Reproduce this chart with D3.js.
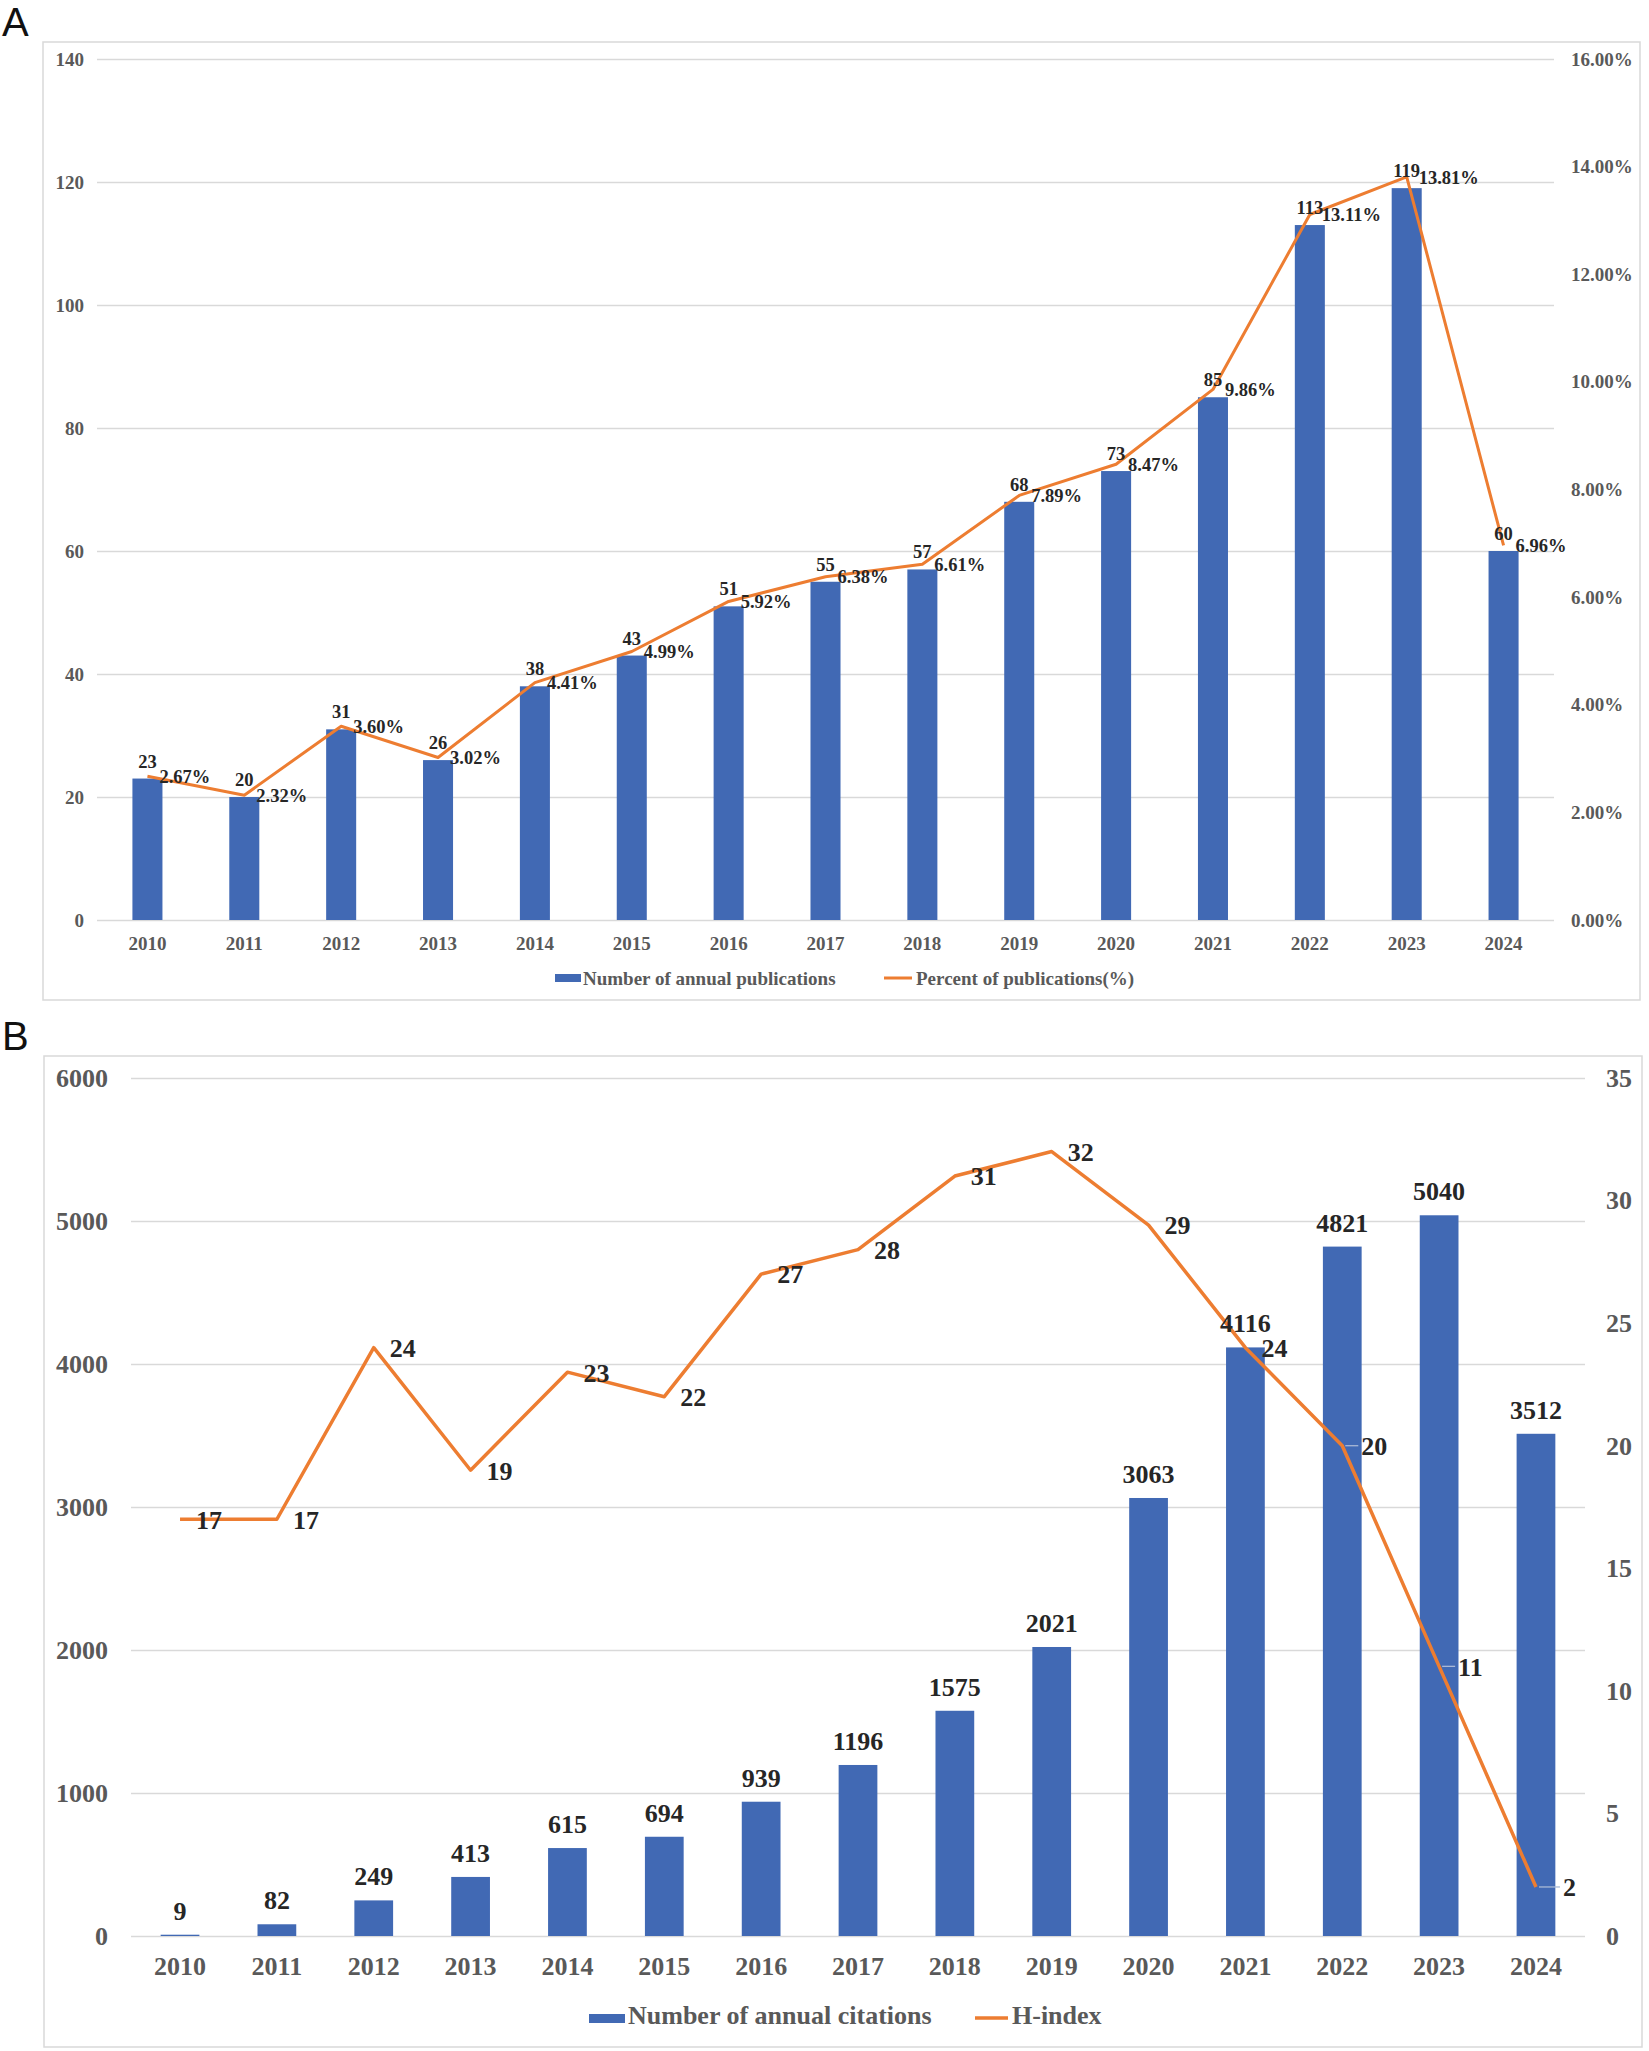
<!DOCTYPE html>
<html><head><meta charset="utf-8">
<script src="https://cdn.jsdelivr.net/npm/d3@7"></script>
<style>
body{margin:0;background:#fff;}
text{font-family:"Liberation Serif","Times New Roman",serif;font-weight:bold;}
.panel{font-family:"Liberation Sans",Arial,sans-serif;font-weight:normal;}
</style></head>
<body>
<svg id="c" width="1649" height="2051"></svg>
<script>
// ---------- DATA ----------
const years = ["2010","2011","2012","2013","2014","2015","2016","2017","2018","2019","2020","2021","2022","2023","2024"];
const publications = [23,20,31,26,38,43,51,55,57,68,73,85,113,119,60];
const percentPub = [2.67,2.32,3.60,3.02,4.41,4.99,5.92,6.38,6.61,7.89,8.47,9.86,13.11,13.81,6.96];
const citations = [9,82,249,413,615,694,939,1196,1575,2021,3063,4116,4821,5040,3512];
const hIndex = [17,17,24,19,23,22,27,28,31,32,29,24,20,11,2];
const leftTicksA = [0,20,40,60,80,100,120,140];
const rightTicksA = [0,2,4,6,8,10,12,14,16];
const leftTicksB = [0,1000,2000,3000,4000,5000,6000];
const rightTicksB = [0,5,10,15,20,25,30,35];
const legendA = ["Number of annual publications","Percent of publications(%)"];
const legendB = ["Number of annual citations","H-index"];

// ---------- STYLE ----------
const BLUE = "#4169B4", ORANGE = "#ED7D31", GRID = "#d9d9d9", AXT = "#595959", LBL = "#262626";

const svg = d3.select("#c");
svg.append("rect").attr("width",1649).attr("height",2051).attr("fill","#fff");

function styleAxis(g, fs){
  g.select(".domain").remove();
  g.selectAll(".tick line").attr("stroke",GRID).attr("stroke-width",1.3);
  g.selectAll(".tick text").attr("fill",AXT).style("font-size",fs+"px")
    .style("font-family","'Liberation Serif','Times New Roman',serif").style("font-weight","bold");
}

// ================= PANEL A =================
(function(){
  svg.append("text").attr("class","panel").attr("x",2).attr("y",36).style("font-size","40px").attr("fill","#111").text("A");
  svg.append("rect").attr("x",43).attr("y",42).attr("width",1597).attr("height",958)
     .attr("fill","none").attr("stroke",GRID).attr("stroke-width",1.5);

  const x = d3.scaleBand().domain(years).range([99,1552]).paddingInner(0.69).paddingOuter(0.345);
  const yL = d3.scaleLinear().domain([0,140]).range([920,59]);
  const yR = d3.scaleLinear().domain([0,16]).range([920,59]);
  const x0 = 97, x1 = 1554;

  const gl = svg.append("g").attr("transform",`translate(${x0},0)`)
    .call(d3.axisLeft(yL).tickValues(leftTicksA).tickSize(-(x1-x0)).tickPadding(13).tickFormat(d3.format("d")));
  styleAxis(gl,19);
  const gr = svg.append("g").attr("transform",`translate(${x1},0)`)
    .call(d3.axisRight(yR).tickValues(rightTicksA).tickSize(0).tickPadding(17).tickFormat(d=>d.toFixed(2)+"%"));
  styleAxis(gr,19);
  const gb = svg.append("g").attr("transform",`translate(0,920)`)
    .call(d3.axisBottom(x).tickSize(0).tickPadding(17));
  styleAxis(gb,19);

  svg.append("g").selectAll("rect").data(years).join("rect")
    .attr("x",d=>x(d)).attr("width",x.bandwidth())
    .attr("y",(d,i)=>yL(publications[i])).attr("height",(d,i)=>yL(0)-yL(publications[i]))
    .attr("fill",BLUE);

  const cx = d=>x(d)+x.bandwidth()/2;
  svg.append("path").datum(years)
    .attr("d",d3.line().x(cx).y((d,i)=>yR(percentPub[i])))
    .attr("fill","none").attr("stroke",ORANGE).attr("stroke-width",3).attr("stroke-linejoin","round");

  svg.append("g").selectAll("text").data(years).join("text")
    .attr("x",cx).attr("y",(d,i)=>yL(publications[i])-11).attr("text-anchor","middle")
    .attr("fill",LBL).style("font-size","18.5px").text((d,i)=>publications[i]);
  svg.append("g").selectAll("text").data(years).join("text")
    .attr("x",d=>cx(d)+12).attr("y",(d,i)=>yR(percentPub[i])).attr("dy","0.36em")
    .attr("fill",LBL).style("font-size","18.5px").text((d,i)=>percentPub[i].toFixed(2)+"%");

  // legend
  svg.append("rect").attr("x",555).attr("y",974).attr("width",26).attr("height",8).attr("fill",BLUE);
  svg.append("text").attr("x",583).attr("y",985).attr("fill",AXT).style("font-size","19px").text(legendA[0]);
  svg.append("line").attr("x1",884).attr("x2",912).attr("y1",978).attr("y2",978).attr("stroke",ORANGE).attr("stroke-width",3);
  svg.append("text").attr("x",916).attr("y",985).attr("fill",AXT).style("font-size","19px").text(legendA[1]);
})();

// ================= PANEL B =================
(function(){
  svg.append("text").attr("class","panel").attr("x",2).attr("y",1050).style("font-size","40px").attr("fill","#111").text("B");
  svg.append("rect").attr("x",44).attr("y",1056).attr("width",1598).attr("height",991)
     .attr("fill","none").attr("stroke",GRID).attr("stroke-width",1.5);

  const x = d3.scaleBand().domain(years).range([131.6,1584.4]).paddingInner(0.6).paddingOuter(0.3);
  const yL = d3.scaleLinear().domain([0,6000]).range([1936,1078]);
  const yR = d3.scaleLinear().domain([0,35]).range([1936,1078]);
  const x0 = 131, x1 = 1585;

  const gl = svg.append("g").attr("transform",`translate(${x0},0)`)
    .call(d3.axisLeft(yL).tickValues(leftTicksB).tickSize(-(x1-x0)).tickPadding(23).tickFormat(d3.format("d")));
  styleAxis(gl,26);
  const gr = svg.append("g").attr("transform",`translate(${x1},0)`)
    .call(d3.axisRight(yR).tickValues(rightTicksB).tickSize(0).tickPadding(21).tickFormat(d3.format("d")));
  styleAxis(gr,26);
  const gb = svg.append("g").attr("transform",`translate(0,1936)`)
    .call(d3.axisBottom(x).tickSize(0).tickPadding(21));
  styleAxis(gb,26);

  svg.append("g").selectAll("rect").data(years).join("rect")
    .attr("x",d=>x(d)).attr("width",x.bandwidth())
    .attr("y",(d,i)=>yL(citations[i])).attr("height",(d,i)=>yL(0)-yL(citations[i]))
    .attr("fill",BLUE);

  const cx = d=>x(d)+x.bandwidth()/2;
  svg.append("path").datum(years)
    .attr("d",d3.line().x(cx).y((d,i)=>yR(hIndex[i])))
    .attr("fill","none").attr("stroke",ORANGE).attr("stroke-width",3.5).attr("stroke-linejoin","round");

  svg.append("g").selectAll("text").data(years).join("text")
    .attr("x",cx).attr("y",(d,i)=>yL(citations[i])-15).attr("text-anchor","middle")
    .attr("fill",LBL).style("font-size","26px").text((d,i)=>citations[i]);

  // labels moved out with leader lines for the last three years
  const leader = {"2022":19,"2023":19,"2024":27};
  const off = d=>leader[d] || 16;
  svg.append("g").selectAll("line").data(years.filter(d=>leader[d])).join("line")
    .attr("x1",d=>cx(d)+3).attr("x2",d=>cx(d)+off(d)-3)
    .attr("y1",d=>yR(hIndex[years.indexOf(d)])).attr("y2",d=>yR(hIndex[years.indexOf(d)]))
    .attr("stroke","#a9b8d6").attr("stroke-width",1.3);
  svg.append("g").selectAll("text").data(years).join("text")
    .attr("x",d=>cx(d)+off(d)).attr("y",(d,i)=>yR(hIndex[i])).attr("dy","0.36em")
    .attr("fill",LBL).style("font-size","26px").text((d,i)=>hIndex[i]);

  // legend
  svg.append("rect").attr("x",589).attr("y",2014).attr("width",36).attr("height",9).attr("fill",BLUE);
  svg.append("text").attr("x",628).attr("y",2024).attr("fill",AXT).style("font-size","26px").text(legendB[0]);
  svg.append("line").attr("x1",975).attr("x2",1008).attr("y1",2018).attr("y2",2018).attr("stroke",ORANGE).attr("stroke-width",3.5);
  svg.append("text").attr("x",1012).attr("y",2024).attr("fill",AXT).style("font-size","26px").text(legendB[1]);
})();
</script>
</body></html>
